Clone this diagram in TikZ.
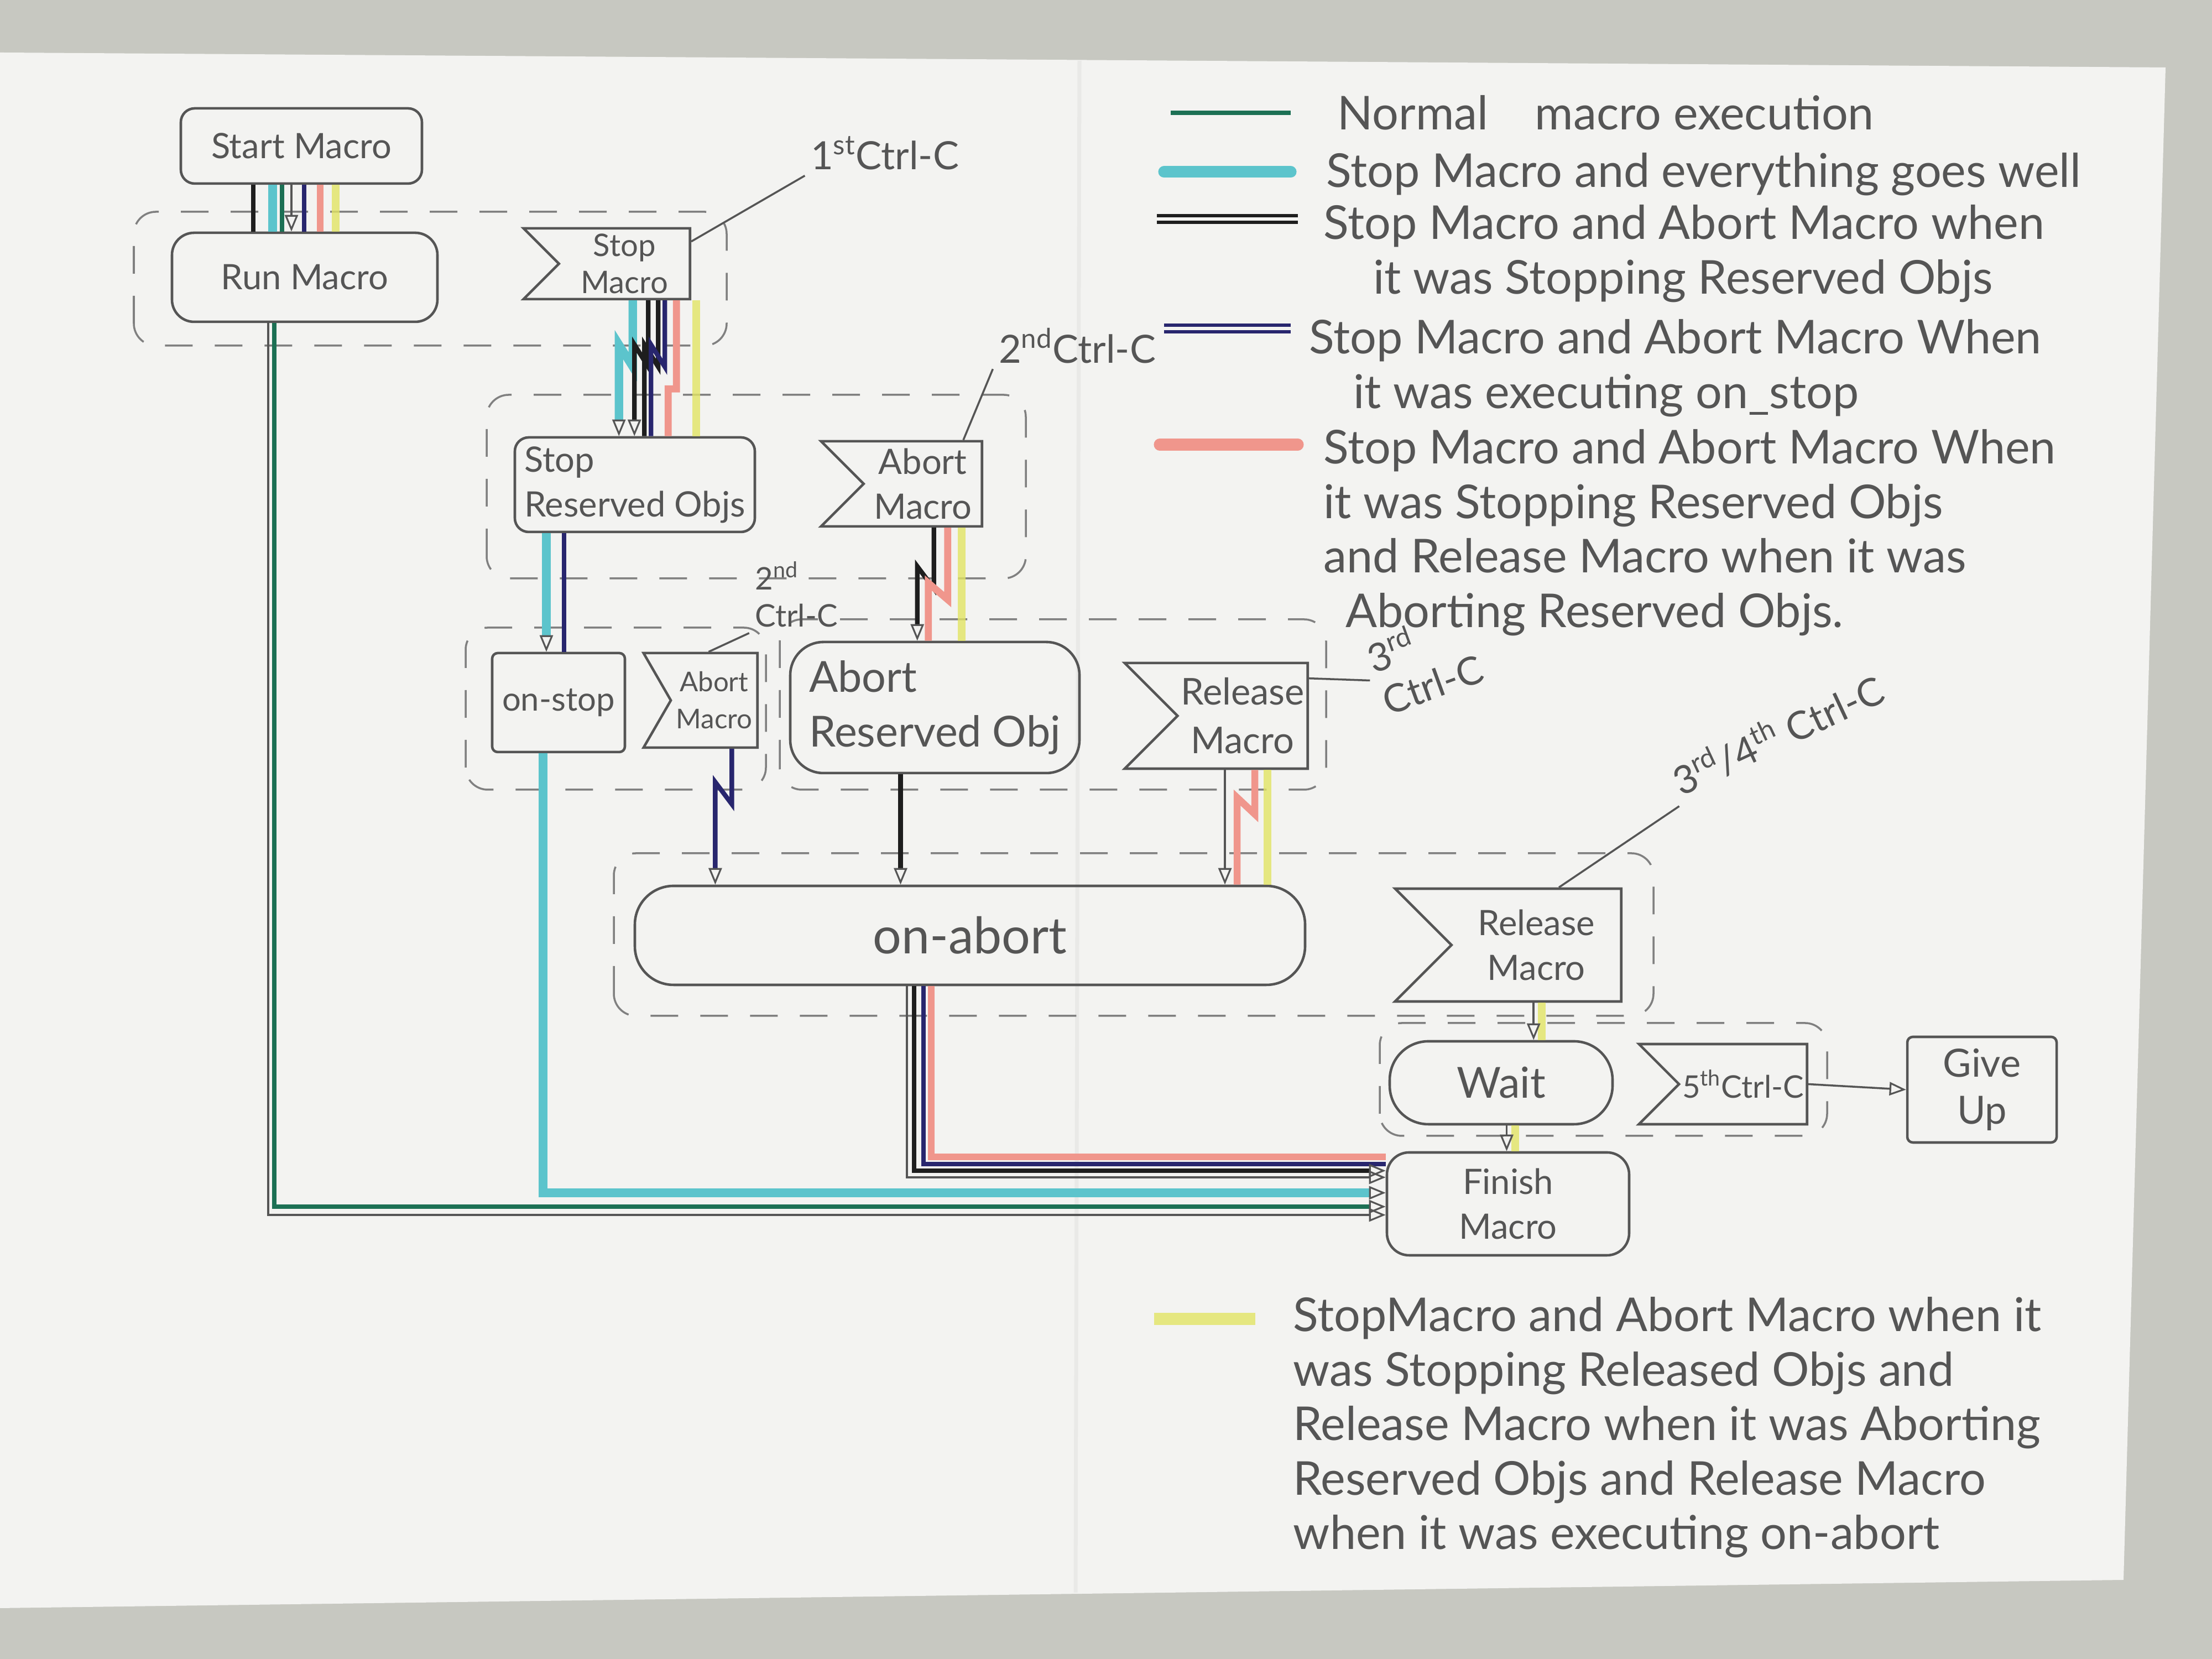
\documentclass[tikz,border=0pt]{standalone}
\usepackage{fontspec}
\setmainfont{Lato}
\usetikzlibrary{arrows.meta,shapes.symbols}

\definecolor{pencil}{RGB}{85,85,85}
\definecolor{backdrop}{RGB}{199,200,193}
\definecolor{paper}{RGB}{243,243,241}
\definecolor{normalgreen}{RGB}{28,112,84}
\definecolor{stopcyan}{RGB}{92,196,204}
\definecolor{abortblack}{RGB}{30,30,30}
\definecolor{onstopnavy}{RGB}{40,38,110}
\definecolor{relpink}{RGB}{240,150,140}
\definecolor{relyellow}{RGB}{226,228,100}

\begin{document}
\begin{tikzpicture}[x=1cm, y=1cm,
    box/.style={draw=pencil, line width=1.3pt, rounded corners=2.5mm, inner sep=1mm,
                text=pencil, align=center, font=\fontsize{18}{23}\selectfont},
    flag/.style={box, sharp corners, shape=signal, signal from=west, signal to=nowhere,
                 signal pointer angle=90, anchor=east, inner sep=0.6mm},
    grp/.style={draw=pencil!75, line width=1pt, dash pattern=on 5mm off 4mm, rounded corners=4mm},
    lbl/.style={text=pencil, align=left, inner sep=1mm, font=\fontsize{20}{23}\selectfont},
    legend/.style={text=pencil, align=left, inner sep=0pt, font=\fontsize{24}{28}\selectfont},
    pencilln/.style={draw=pencil, line width=1pt},
    normalln/.style={draw=normalgreen, line width=2.2pt},
    stopln/.style={draw=stopcyan, line width=4.3pt},
    abortln/.style={draw=abortblack, line width=2.4pt},
    onstopln/.style={draw=onstopnavy, line width=2.4pt},
    relln/.style={draw=relpink, line width=3.6pt},
    yelln/.style={draw=relyellow, line width=4pt, opacity=0.8},
    >={Triangle[open, length=3mm, width=2.4mm, line width=0.9pt, color=pencil]}]

\useasboundingbox (0,0) rectangle (40,30);
\fill[backdrop] (0,0) rectangle (40,30);
\fill[paper] (0,29.05) -- (39.16,28.78) -- (38.4,1.43) -- (0,0.92) -- cycle;
\draw[paper!96!black, line width=2pt] (19.52,28.9) -- (19.45,1.2);

% dashed groups
\draw[grp] (2.42,23.75) rectangle (13.14,26.17);
\draw[grp] (8.8,19.54) rectangle (18.55,22.86);
\draw[grp] (8.42,15.72) rectangle (13.85,18.65);
\draw[grp] (14.1,15.72) rectangle (23.98,18.8);
\draw[grp] (11.1,11.63) rectangle (29.9,14.57);
\draw[grp] (24.95,9.46) rectangle (33.04,11.5);

% boxes
\node[box, minimum width=4.36cm, minimum height=1.36cm] (start) at (5.45,27.36) {Start Macro};
\node[box, rounded corners=4mm, minimum width=4.8cm, minimum height=1.61cm] (run) at (5.51,24.985) {Run Macro};
\node[flag, minimum width=3.01cm, minimum height=1.28cm, font=\fontsize{16}{19}\selectfont] (stopm) at (12.5,25.23) {Stop\\Macro};
\node[box, align=left, minimum width=4.34cm, minimum height=1.71cm] (stopr) at (11.48,21.235) {Stop\\Reserved Objs};
\node[flag, minimum width=2.91cm, minimum height=1.54cm] (abortm) at (17.78,21.25) {Abort\\Macro};
\node[box, rounded corners=1mm, minimum width=2.4cm, minimum height=1.79cm, font=\fontsize{17}{20}\selectfont] (onstop) at (10.1,17.295) {on-stop};
\node[flag, signal pointer angle=120, minimum width=2.06cm, minimum height=1.71cm, font=\fontsize{14}{19}\selectfont] (abortm2) at (13.72,17.335) {Abort\\Macro};
\node[box, align=left, rounded corners=6mm, minimum width=5.23cm, minimum height=2.37cm, font=\fontsize{22}{28}\selectfont] (abortr) at (16.905,17.205) {Abort\\Reserved Obj};
\node[flag, minimum width=3.26cm, minimum height=1.91cm, font=\fontsize{19}{25}\selectfont] (rel) at (23.67,17.055) {Release\\Macro};
\node[box, rounded corners=7mm, minimum width=12.12cm, minimum height=1.79cm, font=\fontsize{26}{30}\selectfont] (onabort) at (17.54,13.085) {on-abort};
\node[flag, minimum width=4.09cm, minimum height=2.04cm] (rel2) at (29.34,12.91) {Release\\Macro};
\node[box, rounded corners=7mm, minimum width=4.03cm, minimum height=1.5cm, font=\fontsize{22}{26}\selectfont] (wait) at (27.145,10.42) {Wait};
\node[flag, minimum width=2.8cm, minimum height=1.45cm, font=\fontsize{16}{20}\selectfont] (ctrlc5) at (32.7,10.395) {5\textsuperscript{th}Ctrl-C};
\node[box, rounded corners=1mm, minimum width=2.7cm, minimum height=1.91cm, font=\fontsize{20}{24}\selectfont] (giveup) at (35.84,10.295) {Give\\Up};
\node[box, rounded corners=4mm, minimum width=4.38cm, minimum height=1.86cm] (finish) at (27.27,8.23) {Finish\\Macro};

% ctrl-c labels
\node[lbl] (ctrlc1) at (16.0,27.23) {1\textsuperscript{st}Ctrl-C};
\node[lbl] (ctrlc2) at (19.48,23.75) {2\textsuperscript{nd}Ctrl-C};
\node[lbl, font=\fontsize{16}{19}\selectfont] (ctrlc2b) at (14.4,19.25) {2\textsuperscript{nd}\\Ctrl-C};
\node[lbl, rotate=20] (ctrlc3) at (25.75,18.05) {3\textsuperscript{rd}\\Ctrl-C};
\node[lbl, rotate=25] (ctrlc34) at (32.14,16.73) {3\textsuperscript{rd}/4\textsuperscript{th} Ctrl-C};
\draw[pencilln] ([yshift=-2.6mm]stopm.north east) -- (ctrlc1.south west);
\draw[pencilln] ([xshift=-3.6mm]abortm.north east) -- (ctrlc2.south west);
\draw[pencilln] ([xshift=-1mm]abortm2.north) -- (ctrlc2b.south west);
\draw[pencilln] ([yshift=-3mm]rel.north east) -- (ctrlc3.west);
\draw[pencilln] ([xshift=-11.5mm]rel2.north east) -- (ctrlc34.south west);

% start -> run
\draw[abortln] ([xshift=-8.7mm]start.south) -- ([xshift=-8.7mm]start.south |- run.north);
\draw[stopln] ([xshift=-5.2mm]start.south) -- ([xshift=-5.2mm]start.south |- run.north);
\draw[normalln] ([xshift=-3.5mm]start.south) -- ([xshift=-3.5mm]start.south |- run.north);
\draw[pencilln, ->] ([xshift=-1.8mm]start.south) -- ([xshift=-1.8mm]start.south |- run.north);
\draw[onstopln] ([xshift=0.5mm]start.south) -- ([xshift=0.5mm]start.south |- run.north);
\draw[relln] ([xshift=3.4mm]start.south) -- ([xshift=3.4mm]start.south |- run.north);
\draw[yelln] ([xshift=6.2mm]start.south) -- ([xshift=6.2mm]start.south |- run.north);

% stop macro -> stop reserved objs
\draw[stopln, ->] ([xshift=1.5mm]stopm.south) -- ++(0,-1.2) -- ++(-0.25,0.4) -- ([xshift=-1mm]stopm.south |- stopr.north);
\draw[abortln, ->] ([xshift=4.3mm]stopm.south) -- ++(0,-1.2) -- ++(-0.25,0.4) -- ([xshift=1.8mm]stopm.south |- stopr.north);
\draw[abortln] ([xshift=6.1mm]stopm.south) -- ++(0,-1.2) -- ++(-0.25,0.4) -- ([xshift=3.6mm]stopm.south |- stopr.north);
\draw[onstopln] ([xshift=7.3mm]stopm.south) -- ++(0,-1.2) -- ++(-0.25,0.4) -- ([xshift=4.8mm]stopm.south |- stopr.north);
\draw[relln] ([xshift=9.4mm]stopm.south) -- ++(0,-1.6) -- ++(-0.15,0) -- ([xshift=7.9mm]stopm.south |- stopr.north);
\draw[yelln] ([xshift=13mm]stopm.south) -- ([xshift=13mm]stopm.south |- stopr.north);

% stop reserved objs -> on-stop
\draw[stopln, ->] ([xshift=-16mm]stopr.south) -- ([xshift=-16mm]stopr.south |- onstop.north);
\draw[onstopln] ([xshift=-12.8mm]stopr.south) -- ([xshift=-12.8mm]stopr.south |- onstop.north);

% abort macro -> abort reserved obj
\draw[abortln, ->] ([xshift=2mm]abortm.south) -- ++(0,-1.1) -- ++(-0.3,0.4) -- ([xshift=-1mm]abortm.south |- abortr.north);
\draw[relln] ([xshift=4.5mm]abortm.south) -- ++(0,-1.3) -- ++(-0.35,0.3) -- ([xshift=1mm]abortm.south |- abortr.north);
\draw[yelln] ([xshift=7mm]abortm.south) -- ([xshift=7mm]abortm.south |- abortr.north);

% second row -> on-abort
\draw[onstopln, ->] ([xshift=3.2mm]abortm2.south) -- ++(0,-1.0) -- ++(-0.3,0.4) -- ([xshift=0.2mm]abortm2.south |- onabort.north);
\draw[abortln, ->] ([xshift=-6.2mm]abortr.south) -- ([xshift=-6.2mm]abortr.south |- onabort.north);
\draw[pencilln, ->] ([xshift=-3.2mm]rel.south) -- ([xshift=-3.2mm]rel.south |- onabort.north);
\draw[relln] ([xshift=2.2mm]rel.south) -- ++(0,-0.8) -- ++(-0.32,0.3) -- ([xshift=-1mm]rel.south |- onabort.north);
\draw[yelln] ([xshift=4.5mm]rel.south) -- ([xshift=4.5mm]rel.south |- onabort.north);

% release macro -> wait -> finish, 5th ctrl-c -> give up
\draw[yelln] ([xshift=1mm]rel2.south) -- ([xshift=1mm]rel2.south |- wait.north);
\draw[pencilln, ->] ([xshift=-0.5mm]rel2.south) -- ([xshift=-0.5mm]rel2.south |- wait.north);
\draw[yelln] ([xshift=2.5mm]wait.south) -- ([xshift=2.5mm]wait.south |- finish.north);
\draw[pencilln, ->] ([xshift=1mm]wait.south) -- ([xshift=1mm]wait.south |- finish.north);
\draw[pencilln, ->] (ctrlc5.east) -- (giveup.west);

% into finish macro
\draw[relln] ([xshift=-7mm]onabort.south) |- ([yshift=8.5mm]finish.west);
\draw[onstopln] ([xshift=-8.4mm]onabort.south) |- ([yshift=7.2mm]finish.west);
\draw[abortln, ->] ([xshift=-10.1mm]onabort.south) |- ([yshift=6mm]finish.west);
\draw[pencilln, ->] ([xshift=-11.4mm]onabort.south) |- ([yshift=4.8mm]finish.west);
\draw[stopln, ->] ([xshift=-2.8mm]onstop.south) |- ([yshift=2mm]finish.west);
\draw[normalln, ->] ([xshift=-5.5mm]run.south) |- ([yshift=-0.5mm]finish.west);
\draw[pencilln, ->] ([xshift=-6.6mm]run.south) |- ([yshift=-2mm]finish.west);

% legend
\draw[normalln] (21.17,27.96) -- (23.34,27.96);
\node[legend, anchor=west] (leg1) at (24.18,27.96) {Normal\quad macro execution};
\draw[stopln, line width=6pt, line cap=round] (21.05,26.89) -- (23.34,26.89);
\node[legend, anchor=west] (leg2) at (23.98,26.85) {Stop Macro and everything goes well};
\draw[abortln, line width=1.8pt] (20.92,26.1) -- (23.47,26.1) (20.92,25.98) -- (23.47,25.98);
\node[legend, anchor=north west] (leg3) at (23.93,26.3) {Stop Macro and Abort Macro when\\\hspace*{0.9cm}it was Stopping Reserved Objs};
\draw[onstopln, line width=1.8pt] (21.05,24.12) -- (23.34,24.12) (21.05,24.0) -- (23.34,24.0);
\node[legend, anchor=north west] (leg4) at (23.67,24.23) {Stop Macro and Abort Macro When\\\hspace*{0.8cm}it was executing on\_stop};
\draw[relln, line width=6pt, line cap=round] (20.97,21.96) -- (23.47,21.96);
\node[legend, anchor=north west] (leg5) at (23.93,22.24) {Stop Macro and Abort Macro When\\it was Stopping Reserved Objs\\and Release Macro when it was\\\hspace*{0.4cm}Aborting Reserved Objs.};
\draw[yelln, line width=6pt] (20.87,6.15) -- (22.7,6.15);
\node[legend, anchor=north west] (leg6) at (23.38,6.55) {StopMacro and Abort Macro when it\\was Stopping Released Objs and\\Release Macro when it was Aborting\\Reserved Objs and Release Macro\\when it was executing on-abort};

\end{tikzpicture}
\end{document}
